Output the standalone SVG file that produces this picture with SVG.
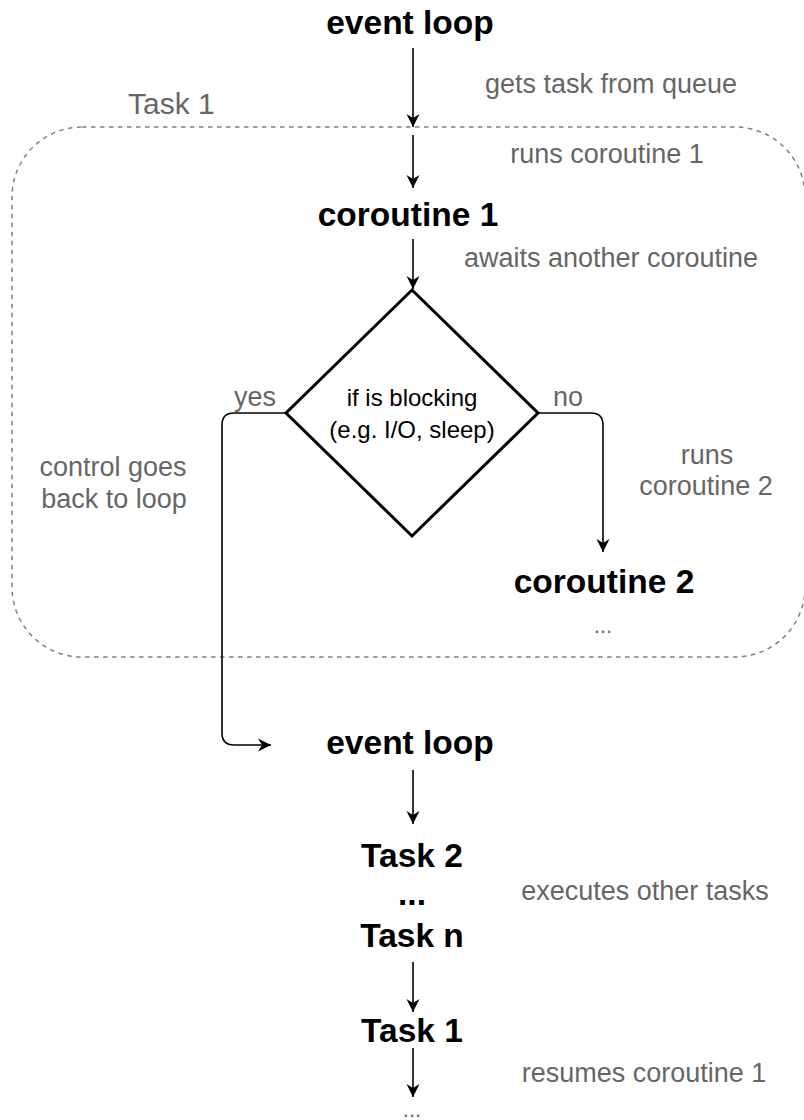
<svg xmlns="http://www.w3.org/2000/svg" width="804" height="1120" viewBox="0 0 804 1120">
  <style>
    text { font-family: "Liberation Sans", Arial, Helvetica, sans-serif; }
    .bold { font-weight: bold; font-size: 33.5px; fill: #000000; text-anchor: middle; }
    .gray { font-size: 27px; fill: #666666; }
    .mid { text-anchor: middle; }
    .dtext { font-size: 24px; fill: #000000; text-anchor: middle; }
    .conn { fill: none; stroke: #000000; stroke-width: 1.6; }
  </style>
  <defs>
    <marker id="arrow" markerUnits="userSpaceOnUse" markerWidth="14" markerHeight="14" viewBox="0 0 14 14" refX="13" refY="7" orient="auto">
      <path d="M0,0.5 L13,7 L0,13.5 L4,7 Z" fill="#000000"/>
    </marker>
  </defs>
  <rect width="804" height="1120" fill="#ffffff"/>

  <g id="task1-group">
    <rect x="12" y="127" width="793" height="530" rx="70" ry="70" fill="none" stroke="#808080" stroke-width="1.5" stroke-dasharray="4.5 4.5"/>
    <text class="gray" x="128" y="114" style="font-size:30px">Task 1</text>
  </g>

  <g id="connectors">
    <line class="conn" x1="413" y1="48" x2="413" y2="127" marker-end="url(#arrow)"/>
    <line class="conn" x1="413" y1="135" x2="413" y2="188" marker-end="url(#arrow)"/>
    <line class="conn" x1="413" y1="239" x2="413" y2="289" marker-end="url(#arrow)"/>
    <path class="conn" d="M286,413 L234,413 Q222,413 222,425 L222,733 Q222,745 234,745 L271,745" marker-end="url(#arrow)"/>
    <path class="conn" d="M538,413 L591,413 Q603,413 603,425 L603,552" marker-end="url(#arrow)"/>
    <line class="conn" x1="413" y1="770" x2="413" y2="824" marker-end="url(#arrow)"/>
    <line class="conn" x1="413" y1="962" x2="413" y2="1012" marker-end="url(#arrow)"/>
    <line class="conn" x1="413" y1="1048" x2="413" y2="1097" marker-end="url(#arrow)"/>
  </g>

  <g id="labels">
    <text class="gray mid" x="611" y="93">gets task from queue</text>
    <text class="gray mid" x="607" y="163">runs coroutine 1</text>
    <text class="gray mid" x="611" y="267">awaits another coroutine</text>
    <text class="gray" x="234" y="406">yes</text>
    <text class="gray" x="553" y="406">no</text>
    <text class="gray mid" x="707" y="464">runs</text>
    <text class="gray mid" x="706" y="495">coroutine 2</text>
    <text class="gray mid" x="113" y="476">control goes</text>
    <text class="gray mid" x="114" y="508">back to loop</text>
    <text class="gray mid" x="645" y="900">executes other tasks</text>
    <text class="gray mid" x="644" y="1082">resumes coroutine 1</text>
  </g>

  <g id="event-loop-1">
    <text class="bold" x="410" y="34">event loop</text>
  </g>

  <g id="coroutine-1">
    <text class="bold" x="408" y="226">coroutine 1</text>
  </g>

  <g id="decision">
    <polygon points="412,290 538,413 412,536 286,413" fill="#ffffff" stroke="#000000" stroke-width="3" stroke-linejoin="miter"/>
    <text class="dtext" x="412" y="406">if is blocking</text>
    <text class="dtext" x="412" y="438">(e.g. I/O, sleep)</text>
  </g>

  <g id="coroutine-2">
    <text class="bold" x="604" y="593">coroutine 2</text>
    <text class="gray mid" x="603" y="633" style="font-size:22px">...</text>
  </g>

  <g id="event-loop-2">
    <text class="bold" x="410" y="754">event loop</text>
  </g>

  <g id="tasks">
    <text class="bold" x="412" y="867">Task 2</text>
    <text class="bold" x="412" y="905">...</text>
    <text class="bold" x="412" y="947">Task n</text>
  </g>

  <g id="task-1">
    <text class="bold" x="412" y="1042">Task 1</text>
  </g>

  <g id="ellipsis-end">
    <text class="gray mid" x="412" y="1117" style="font-size:22px">...</text>
  </g>
</svg>
